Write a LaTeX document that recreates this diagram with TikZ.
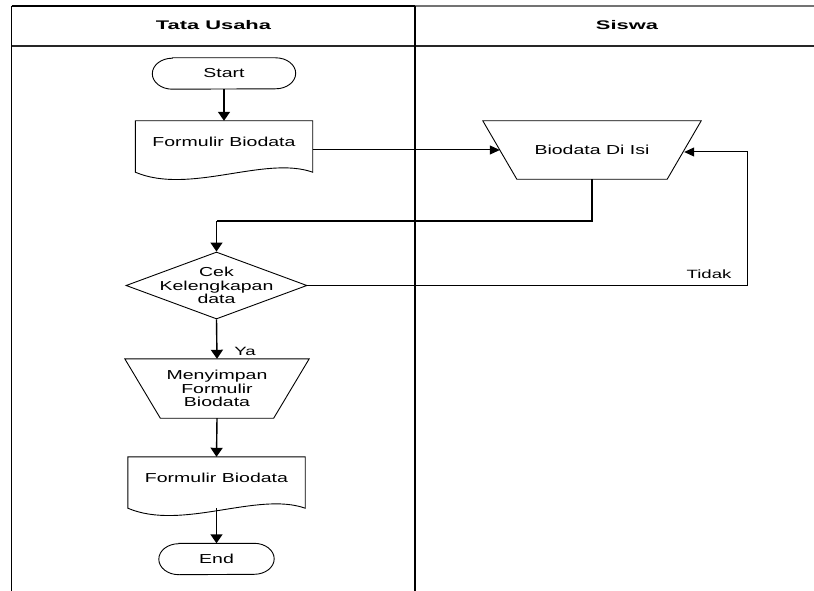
\documentclass[tikz,border=0pt]{standalone}
\usepackage{fontspec}
\setmainfont{Liberation Sans}[FakeStretch=1.5]
\newfontfamily\hdrfont{Liberation Sans}[FakeStretch=1.75]
\newfontfamily\lblfont{Liberation Sans}[FakeStretch=1.55]
\usetikzlibrary{arrows.meta,shapes.geometric}
\tikzset{
  lane/.style={line width=1.5pt},
  shp/.style={draw=black, line width=0.9pt},
  txt/.style={inner sep=0pt, align=center, font=\fontsize{13}{13.5}\selectfont},
  lbl/.style={inner sep=0pt, font=\lblfont\fontsize{12}{13}\selectfont},
  hdr/.style={inner sep=0pt, font=\hdrfont\bfseries\fontsize{12.5}{14}\selectfont},
  term/.style={txt, minimum width=#1, minimum height=31pt},
  trapbox/.style 2 args={txt, minimum width=#1, minimum height=#2},
  docbox/.style={txt, minimum width=177pt, minimum height=51pt, text height=9.5pt, text depth=8.7pt},
  conn/.style={line width=1.4pt, -{Triangle[length=9pt,width=12pt]}},
  hconn/.style={line width=1pt, -{Triangle[length=10pt,width=9pt]}},
  plain/.style={line width=1.2pt},
  thin/.style={line width=1pt}
}
\newcommand{\stadiumoutline}[1]{\draw[shp] ([xshift=20pt]#1.north west) -- ([xshift=-20pt]#1.north east)
  arc[start angle=90,end angle=-90,x radius=20pt,y radius=15.5pt] -- ([xshift=20pt]#1.south west)
  arc[start angle=270,end angle=90,x radius=20pt,y radius=15.5pt] -- cycle;}
\newcommand{\invtrapoutline}[2]{\draw[shp] (#1.north west) -- (#1.north east) -- ([xshift=-#2]#1.south east) -- ([xshift=#2]#1.south west) -- cycle;}
\newcommand{\docoutline}[1]{\draw[shp] (#1.south west) -- (#1.north west) -- (#1.north east) -- (#1.south east)
  .. controls ([xshift=-48pt,yshift=17pt]#1.south east) and ([xshift=54pt,yshift=-23pt]#1.south west) .. (#1.south west) -- cycle;}
\begin{document}
\begin{tikzpicture}[x=1pt,y=1pt]
\useasboundingbox (0,0) rectangle (814,-591);
% swimlane frame
\draw[lane] (11.5,-6) -- (415,-6);
\draw[lane, black!55] (415,-6) -- (814,-6);
\draw[lane, black!85] (11.5,-46) -- (814,-46);
\draw[lane] (11.5,-6) -- (11.5,-591);
\draw[lane] (415,-6) -- (415,-591);
\node[hdr] (h1) at (213.5,-25.5) {Tata Usaha};
\node[hdr] (h2) at (627,-25.5) {Siswa};
% nodes
\node[term=143pt] (start) at (224,-73.5) {Start};
\stadiumoutline{start}
\node[docbox] (form1) at (224,-146.5) {Formulir Biodata};
\docoutline{form1}
\node[trapbox={218pt}{58pt}] (bio) at (592,-150) {Biodata Di Isi};
\invtrapoutline{bio}{34pt}
\node[diamond, shp, minimum width=181pt, minimum height=67pt, inner sep=0pt] (cek) at (216.5,-285.5) {};
\node[txt] (cektxt) at (cek.center) {Cek\\Kelengkapan\\data};
\node[trapbox={184pt}{59pt}] (men) at (217,-388.5) {Menyimpan\\Formulir\\Biodata};
\invtrapoutline{men}{35.5pt}
\node[docbox] (form2) at (216.5,-482.5) {Formulir Biodata};
\docoutline{form2}
\node[term=115pt] (end) at (216.5,-559) {End};
\stadiumoutline{end}
% connectors
\coordinate (j1) at (216.5,-221);
\coordinate (loopR) at (747,-285.5);
\draw[conn] (start.south) -- (form1.north);
\draw[hconn] (form1.east |- bio.west) -- ([xshift=17pt]bio.west);
\draw[plain] (bio.south) |- (j1);
\draw[conn] (j1) -- (cek.north);
\draw[thin] (cek.east) -- (loopR);
\draw[hconn] (loopR) |- ([xshift=-17pt,yshift=-2pt]bio.east);
\node[lbl] (tidak) at (709,-274.5) {Tidak};
\draw[conn] (cek.south) -- (men.north);
\node[lbl] (ya) at (245,-351.5) {Ya};
\draw[conn] (men.south) -- (form2.north);
\draw[conn] (form2.south) -- (end.north);
\end{tikzpicture}
\end{document}
